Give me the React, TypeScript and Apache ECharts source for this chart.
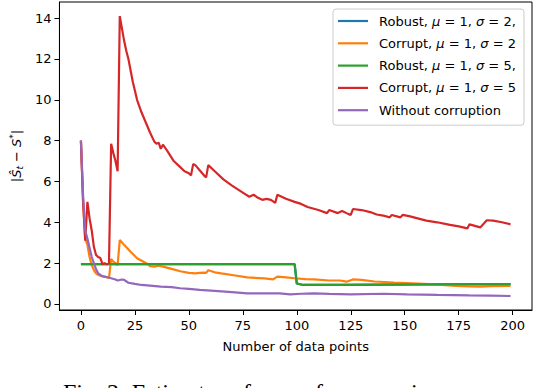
import React, { useEffect, useRef } from "react";
import * as echarts from "echarts";

const X_TICKS = [0, 25, 50, 75, 100, 125, 150, 175, 200];
const Y_TICKS = [0, 2, 4, 6, 8, 10, 12, 14];

const SERIES_NAMES = [
  "Robust, μ = 1, σ = 2,",
  "Corrupt, μ = 1, σ = 2",
  "Robust, μ = 1, σ = 5,",
  "Corrupt, μ = 1, σ = 5",
  "Without corruption",
];
const COLORS = ["#1f77b4", "#ff7f0e", "#2ca02c", "#d62728", "#9467bd"];

const robust2X = [0, 99, 100, 103, 120, 140, 160, 199];
const robust2Y = [1.95, 1.95, 1.0, 0.93, 0.93, 0.95, 0.96, 0.97];

const corrupt2X = [0, 1, 2, 3, 4, 5, 6, 7, 8, 9, 10, 11, 12, 13, 14, 15, 16, 17, 18, 20, 23, 26, 29, 31, 32, 34, 36, 38, 42, 46, 50, 53, 55, 57, 58, 59, 62, 65, 70, 77, 85, 89, 91, 95, 99, 104, 108, 115, 120, 123, 126, 130, 136, 145, 159, 165, 174, 180, 185, 190, 199];
const corrupt2Y = [8.0, 5.0, 3.2, 2.9, 2.3, 1.9, 1.66, 1.5, 1.42, 1.38, 1.35, 1.33, 1.3, 1.28, 2.2, 2.07, 2.0, 1.9, 3.13, 2.9, 2.56, 2.24, 2.07, 1.95, 1.85, 1.83, 1.87, 1.83, 1.72, 1.6, 1.52, 1.5, 1.52, 1.53, 1.52, 1.65, 1.55, 1.5, 1.42, 1.3, 1.25, 1.2, 1.34, 1.3, 1.26, 1.22, 1.2, 1.15, 1.15, 1.09, 1.2, 1.18, 1.1, 1.05, 0.98, 0.95, 0.88, 0.86, 0.85, 0.87, 0.88];

const robust5X = [0, 99, 100, 103, 120, 140, 160, 199];
const robust5Y = [1.95, 1.95, 1.0, 0.93, 0.93, 0.95, 0.96, 0.97];

const corrupt5X = [0, 1, 2, 3, 4, 5, 6, 7, 8, 9, 10, 11, 12, 13, 14, 15, 16, 17, 18, 19, 20, 21, 22, 24, 26, 28, 30, 32, 34, 35, 36, 37, 38, 40, 43, 46, 48, 50, 51, 52, 53, 55, 57, 58, 59, 62, 66, 70, 75, 78, 80, 82, 84, 86, 88, 90, 91, 95, 99, 102, 105, 110, 114, 115, 119, 121, 124, 125, 126, 130, 134, 137, 140, 143, 144, 148, 149, 152, 156, 160, 165, 171, 175, 179, 180, 185, 188, 191, 195, 199];
const corrupt5Y = [8.0, 5.0, 3.1, 5.0, 4.2, 3.6, 2.8, 2.4, 2.3, 2.25, 1.95, 2.0, 1.95, 2.0, 7.85, 7.4, 7.0, 6.5, 14.1, 13.5, 12.9, 12.4, 12.0, 10.9, 10.0, 9.4, 8.9, 8.4, 7.95, 7.85, 7.9, 7.6, 7.8, 7.5, 7.0, 6.7, 6.5, 6.4, 6.3, 6.85, 6.8, 6.55, 6.3, 6.2, 6.8, 6.5, 6.1, 5.8, 5.45, 5.25, 5.35, 5.2, 5.1, 5.15, 5.1, 4.95, 5.35, 5.15, 5.0, 4.9, 4.75, 4.6, 4.45, 4.6, 4.45, 4.55, 4.4, 4.36, 4.65, 4.6, 4.5, 4.38, 4.33, 4.24, 4.36, 4.24, 4.36, 4.3, 4.19, 4.08, 4.0, 3.87, 3.8, 3.7, 3.9, 3.75, 4.1, 4.08, 4.0, 3.9];

const cleanX = [0, 1, 2, 3, 4, 5, 6, 7, 8, 9, 10, 12, 14, 16, 17, 19, 20, 22, 25, 28, 32, 37, 42, 46, 50, 55, 62, 70, 77, 85, 92, 97, 102, 108, 115, 125, 140, 151, 165, 180, 190, 199];
const cleanY = [8.0, 5.3, 3.6, 3.2, 2.75, 2.3, 2.0, 1.7, 1.5, 1.42, 1.36, 1.32, 1.26, 1.2, 1.15, 1.2, 1.18, 1.04, 0.98, 0.93, 0.9, 0.85, 0.82, 0.77, 0.74, 0.69, 0.64, 0.58, 0.52, 0.52, 0.52, 0.47, 0.5, 0.52, 0.49, 0.47, 0.5, 0.47, 0.44, 0.42, 0.41, 0.39];

const CAPTION = "Fig. 2: Estimates of mean for our noisy process.";

const zip = (xs: number[], ys: number[]) => xs.map((x, i) => [x, ys[i]]);

const FONT = "DejaVu Sans";

export default function App() {
  const ref = useRef<HTMLDivElement>(null);
  useEffect(() => {
    if (!ref.current) return;
    const chart = echarts.init(ref.current, null, { renderer: "svg" });
    const allX = [robust2X, corrupt2X, robust5X, corrupt5X, cleanX];
    const allY = [robust2Y, corrupt2Y, robust5Y, corrupt5Y, cleanY];
    chart.setOption({
      animation: false,
      textStyle: { fontFamily: FONT },
      grid: {
        left: 58,
        top: 2,
        right: 2,
        bottom: 78,
        show: true,
        borderColor: "#000",
        borderWidth: 1,
        backgroundColor: "transparent",
      },
      xAxis: {
        type: "value",
        min: -9.95,
        max: 208.95,
        axisLine: { show: true, onZero: false, lineStyle: { color: "#000", width: 1 } },
        axisTick: { show: true, length: 5, customValues: X_TICKS, lineStyle: { color: "#000" } },
        axisLabel: { customValues: X_TICKS, fontSize: 13, color: "#000", margin: 9, fontFamily: FONT },
        splitLine: { show: false },
        name: "Number of data points",
        nameLocation: "middle",
        nameGap: 30,
        nameTextStyle: { fontSize: 13, color: "#000", fontFamily: FONT },
      },
      yAxis: {
        type: "value",
        min: -0.296,
        max: 14.79,
        axisLine: { show: true, onZero: false, lineStyle: { color: "#000", width: 1 } },
        axisTick: { show: true, length: 5, customValues: Y_TICKS, lineStyle: { color: "#000" } },
        axisLabel: { customValues: Y_TICKS, fontSize: 13, color: "#000", margin: 8, fontFamily: FONT },
        splitLine: { show: false },
        name: "{t||}{i|Ŝ}{sb|t}{t| − }{i|S}{sp|*}{t||}",
        nameLocation: "middle",
        nameGap: 29,
        nameRotate: 90,
        nameTextStyle: {
          color: "#000",
          fontSize: 13,
          rich: {
            t: { fontSize: 13, fontFamily: FONT, color: "#000" },
            i: { fontSize: 13, fontFamily: FONT, fontStyle: "italic", color: "#000" },
            sb: { fontSize: 9, fontFamily: FONT, fontStyle: "italic", color: "#000", padding: [7, 0, 0, 0] },
            sp: { fontSize: 9, fontFamily: FONT, color: "#000", padding: [0, 0, 7, 0] },
          },
        },
      },
      legend: {
        orient: "vertical",
        left: 333,
        top: 9,
        padding: [4, 8, 7, 5],
        icon: "rect",
        itemWidth: 30,
        itemHeight: 2.2,
        itemGap: 6.3,
        backgroundColor: "rgba(255,255,255,0.8)",
        borderColor: "#cccccc",
        borderWidth: 1,
        borderRadius: 3,
        data: SERIES_NAMES,
        formatter: (name: string) =>
          name.replace(/μ/g, "{i|μ}").replace(/σ/g, "{i|σ}"),
        textStyle: {
          fontSize: 13,
          color: "#000",
          fontFamily: FONT,
          lineHeight: 16,
          padding: [0, 0, 0, 6],
          rich: {
            i: { fontSize: 13, fontFamily: FONT, fontStyle: "italic", color: "#000", lineHeight: 16 },
          },
        },
      },
      series: SERIES_NAMES.map((name, k) => ({
        name,
        type: "line",
        symbol: "none",
        showSymbol: false,
        color: COLORS[k],
        lineStyle: { width: 2.2, color: COLORS[k] },
        data: zip(allX[k], allY[k]),
      })),
      graphic: [
        {
          type: "text",
          left: 63,
          top: 380,
          style: {
            text: CAPTION,
            font: '24px "Liberation Serif"',
            fill: "#000",
          },
        },
      ],
    });
    return () => chart.dispose();
  }, []);
  return (
    <div
      ref={ref}
      style={{ position: "absolute", left: 0, top: 0, width: 534, height: 388 }}
    />
  );
}
